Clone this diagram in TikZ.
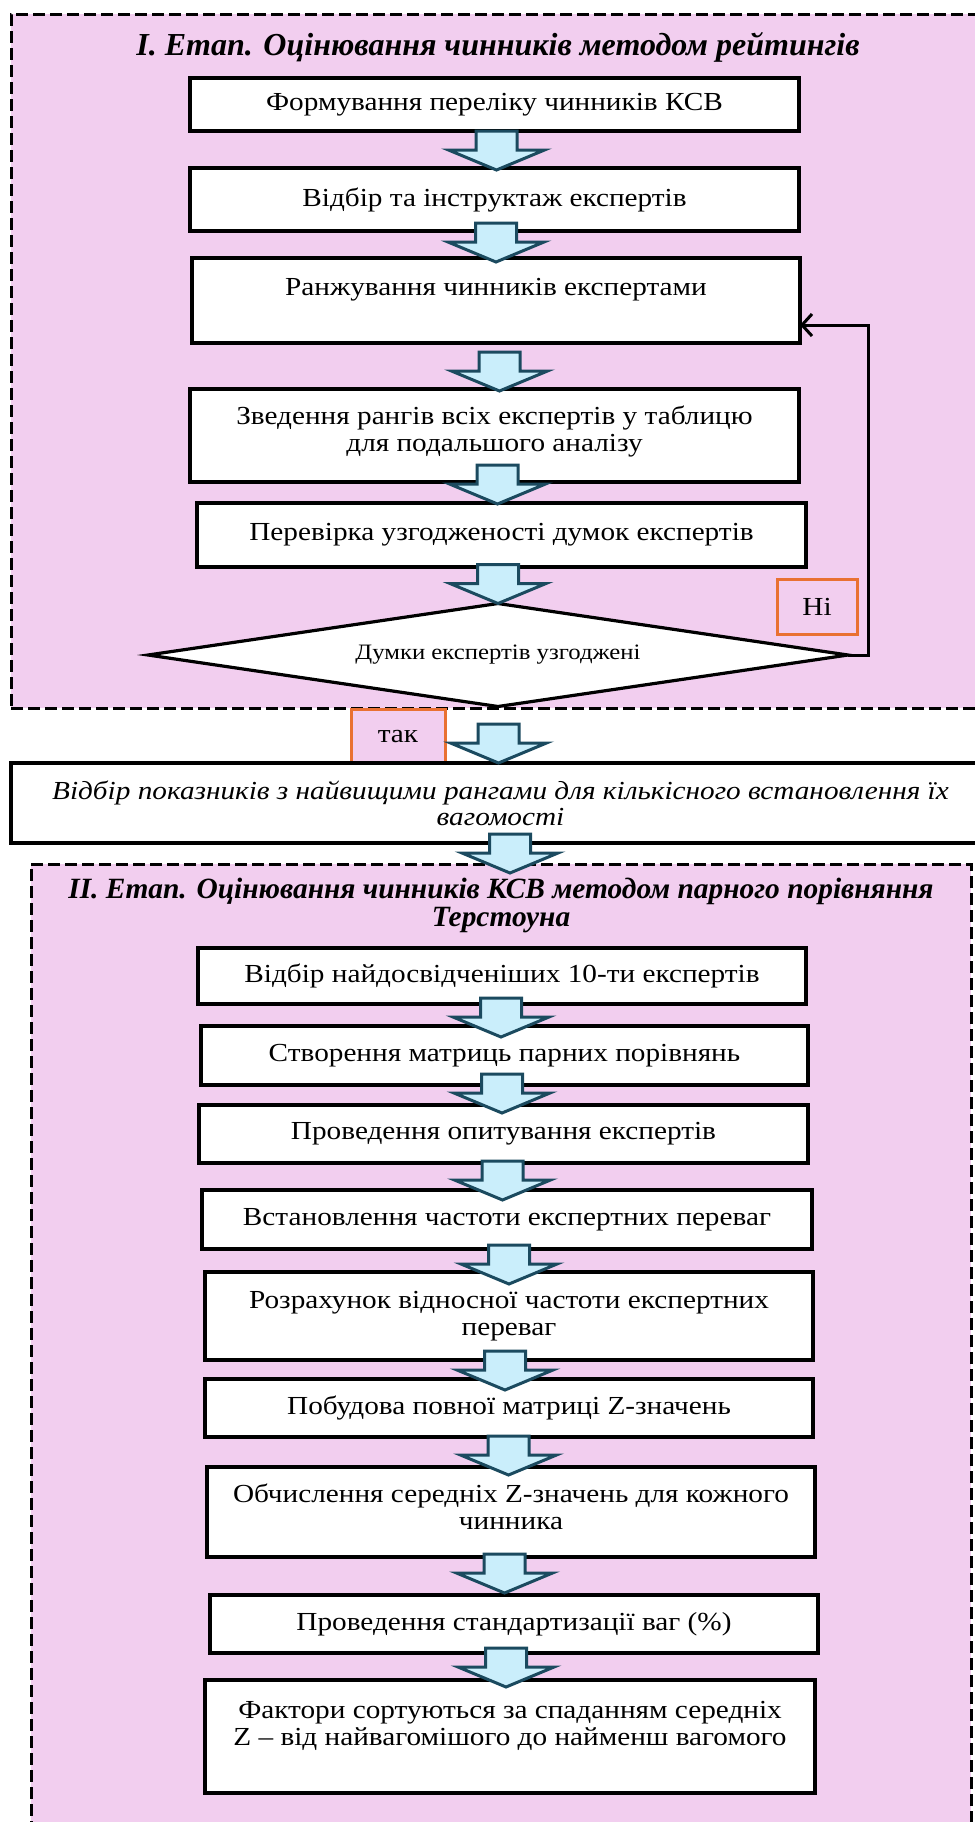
\documentclass[tikz,border=0pt]{standalone}
\usepackage{fontspec}
\setmainfont{Liberation Serif}[FakeStretch=1.125]
\newfontfamily\titlefont{Liberation Serif}
\usetikzlibrary{calc,shapes.geometric,arrows.meta}
\definecolor{pinkbg}{HTML}{F2CEEF}
\definecolor{arrfill}{HTML}{CAEEFB}
\definecolor{arrline}{HTML}{1B4A5F}
\definecolor{orangeb}{HTML}{E97132}
\newcommand\blockarrow[1]{%
  \draw[barrow] ($(#1)+(-20.5,-39)$) -- ($(#1)+(20.5,-39)$) -- ($(#1)+(20.5,-20)$)
    -- ($(#1)+(48,-20)$) -- (#1) -- ($(#1)+(-48,-20)$) -- ($(#1)+(-20.5,-20)$) -- cycle;}
\begin{document}
\begin{tikzpicture}[x=0.5pt,y=-0.5pt,
  stage/.style={draw=black, fill=pinkbg, line width=1.5pt, dash pattern=on 6pt off 2.5pt, inner sep=0pt, outer sep=0pt},
  stepbox/.style={draw=black, fill=white, line width=2pt, align=center, inner sep=0pt, outer sep=0pt,
    font=\fontsize{13}{13.5}\selectfont},
  titletext/.style={align=center, font=\titlefont\fontsize{16}{12.5}\selectfont\bfseries\itshape},
  barrow/.style={draw=arrline, fill=arrfill, line width=1.5pt, line join=miter},
  tagbox/.style={draw=orangeb, line width=1.5pt, minimum width=40pt, minimum height=27.5pt, inner sep=0pt,
    font=\fontsize{13}{13.5}\selectfont},
  decision/.style={diamond, aspect=6.8, draw=black, fill=white, line width=1.6pt, inner sep=0pt, outer sep=0pt,
    minimum width=350pt, minimum height=51.5pt, font=\fontsize{11}{12}\selectfont},
  fb/.style={draw=black, line width=1.5pt, -{Straight Barb[length=5pt,width=11pt]}}]
\useasboundingbox (0,0) rectangle (975,1822);
% stage frames
\node[stage, minimum width=489.5pt, minimum height=347pt] (st1) at (500.5,361) {};
\node[stage, minimum width=470pt, minimum height=485.5pt] (st2) at (501,1349.5) {};
% titles
\node[titletext] (t1) at (498,47) {I. Етап. Оцінювання чинників методом рейтингів};
\node[titletext, font=\titlefont\fontsize{14.7}{12.5}\selectfont\bfseries\itshape] (t2) at (501,905.5)
  {II. Етап. Оцінювання чинників КСВ методом парного порівняння\\Терстоуна};
% stage I boxes
\node[stepbox, minimum width=304.5pt, minimum height=26.5pt] (b1) at (494.5,104.5) {Формування переліку чинників КСВ};
\node[stepbox, minimum width=304.5pt, minimum height=31.5pt] (b2) at (494.5,199.5) {Відбір та інструктаж експертів};
\node[stepbox, minimum width=304pt, minimum height=42.5pt] (b3) at (496,300.5) {Ранжування чинників експертами\\\mbox{}};
\node[stepbox, minimum width=304.5pt, minimum height=46.5pt] (b4) at (494.5,435.5) {Зведення рангів всіх експертів у таблицю\\для подальшого аналізу\\[-6.5pt]\mbox{}};
\node[stepbox, minimum width=304.5pt, minimum height=32pt] (b5) at (501.5,535) {Перевірка узгодженості думок експертів};
\node[decision] (d1) at (498,655) {Думки експертів узгоджені};
\node[tagbox] (no) at (817,606.5) {Ні};
% after stage I
\node[tagbox, fill=pinkbg, minimum width=47pt] (yes) at (398,736.5) {так};
\node[stepbox, minimum width=489.5pt, minimum height=40pt, font=\fontsize{13}{13}\selectfont\itshape] (b6) at (500.5,803)
  {Відбір показників з найвищими рангами для кількісного встановлення їх\\вагомості};
% stage II boxes
\node[stepbox, minimum width=304pt, minimum height=28pt] (c1) at (502,976) {Відбір найдосвідченіших 10-ти експертів};
\node[stepbox, minimum width=303.5pt, minimum height=29.5pt] (c2) at (504.5,1055.5) {Створення матриць парних порівнянь};
\node[stepbox, minimum width=304.5pt, minimum height=29pt] (c3) at (503.5,1134) {Проведення опитування експертів};
\node[stepbox, minimum width=305pt, minimum height=29.5pt] (c4) at (507,1219.5) {Встановлення частоти експертних переваг};
\node[stepbox, minimum width=304pt, minimum height=44pt] (c5) at (509,1316) {Розрахунок відносної частоти експертних\\переваг};
\node[stepbox, minimum width=304pt, minimum height=29pt] (c6) at (509,1408) {Побудова повної матриці Z-значень};
\node[stepbox, minimum width=304pt, minimum height=45pt] (c7) at (511,1512) {Обчислення середніх Z-значень для кожного\\чинника\\[-8pt]\mbox{}};
\node[stepbox, minimum width=304pt, minimum height=29pt] (c8) at (514,1624) {Проведення стандартизації ваг (\%)};
\node[stepbox, minimum width=305pt, minimum height=56.5pt] (c9) at (510,1736.5) {Фактори сортуються за спаданням середніх\\Z – від найвагомішого до найменш вагомого\\\mbox{}};
% feedback connector
\coordinate (fbin) at ($(b3.east)+(0,24.5)$);
\draw[fb] (d1.east) -- ++(20,0) |- (fbin);
% block arrows
\coordinate (a1) at ($(b2.north)+(2,2)$);
\coordinate (a2) at ($(b3.north)+(0,4)$);
\coordinate (a3) at ($(b4.north)+(5,2)$);
\coordinate (a4) at ($(b5.north)+(-4,1)$);
\coordinate (a5) at (d1.north);
\coordinate (a6) at ($(b6.north)+(-2,0)$);
\coordinate (a7) at ($(st2.north)+(9,9)$);
\coordinate (a8) at ($(c2.north)+(-3.5,11)$);
\coordinate (a9) at ($(c3.north)+(-1.5,8)$);
\coordinate (a10) at ($(c4.north)+(-4.5,10)$);
\coordinate (a11) at ($(c5.north)+(0,12)$);
\coordinate (a12) at ($(c6.north)+(-4,11)$);
\coordinate (a13) at ($(c7.north)+(-2.5,8)$);
\coordinate (a14) at ($(c8.north)+(-9.5,-2)$);
\coordinate (a15) at ($(c9.north)+(-4,7)$);
\foreach \a in {a1,a2,a3,a4,a5,a6,a7,a8,a9,a10,a11,a12,a13,a14,a15} {\blockarrow{\a}}
\end{tikzpicture}
\end{document}
